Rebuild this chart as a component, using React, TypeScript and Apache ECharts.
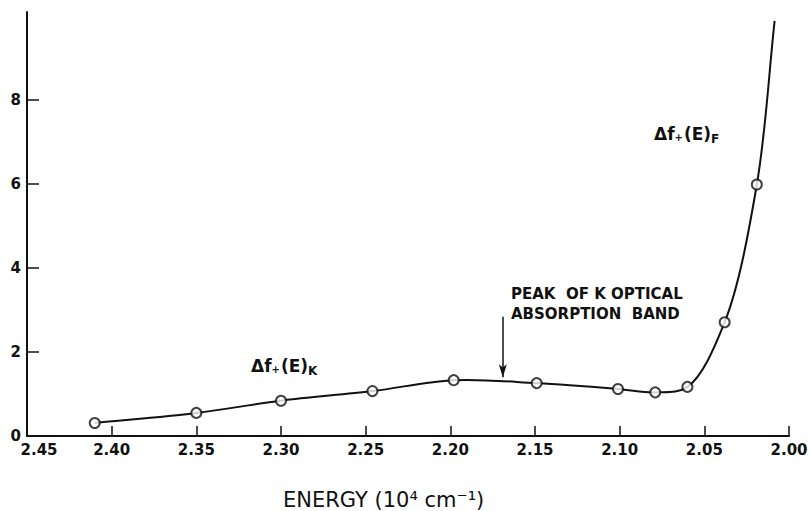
import React, { useEffect, useRef } from "react";
import * as echarts from "echarts";

// Measured points: energy (10^4 cm^-1) vs Δf
const energy = [2.41, 2.35, 2.3, 2.246, 2.198, 2.149, 2.101, 2.079, 2.06, 2.038, 2.019];
const deltaF = [0.31, 0.55, 0.84, 1.07, 1.33, 1.26, 1.12, 1.04, 1.17, 2.71, 5.99];
// Drawn curve continues past the last measured point
const curveEndEnergy = [2.0085];
const curveEndValue = [9.89];

const xTickValues = [2.4, 2.35, 2.3, 2.25, 2.2, 2.15, 2.1, 2.05, 2.0];
const xLabelValues = [2.45, 2.4, 2.35, 2.3, 2.25, 2.2, 2.15, 2.1, 2.05, 2.0];
const yTickValues = [2, 4, 6, 8];
const yLabelValues = [0, 2, 4, 6, 8];

const peakEnergy = 2.169;
const arrowStart = 2.84;
const arrowEnd = 1.4;

// centripetal Catmull-Rom through pixel points -> SVG path data
function catmullRomPath(pts: number[][]): string {
  if (pts.length < 2) return "";
  const n = pts.length;
  const ext = [
    [2 * pts[0][0] - pts[1][0], 2 * pts[0][1] - pts[1][1]],
    ...pts,
    [2 * pts[n - 1][0] - pts[n - 2][0], 2 * pts[n - 1][1] - pts[n - 2][1]],
  ];
  const a = 0.5;
  let d = `M${pts[0][0]},${pts[0][1]}`;
  for (let i = 1; i < ext.length - 2; i++) {
    const p0 = ext[i - 1], p1 = ext[i], p2 = ext[i + 1], p3 = ext[i + 2];
    const l01 = Math.pow(Math.hypot(p1[0] - p0[0], p1[1] - p0[1]), a) || 1e-6;
    const l12 = Math.pow(Math.hypot(p2[0] - p1[0], p2[1] - p1[1]), a) || 1e-6;
    const l23 = Math.pow(Math.hypot(p3[0] - p2[0], p3[1] - p2[1]), a) || 1e-6;
    const b1 = [0, 1].map(
      (k) =>
        (l01 * l01 * p2[k] - l12 * l12 * p0[k] + (2 * l01 * l01 + 3 * l01 * l12 + l12 * l12) * p1[k]) /
        (3 * l01 * (l01 + l12))
    );
    const b2 = [0, 1].map(
      (k) =>
        (l23 * l23 * p1[k] - l12 * l12 * p3[k] + (2 * l23 * l23 + 3 * l23 * l12 + l12 * l12) * p2[k]) /
        (3 * l23 * (l23 + l12))
    );
    d += ` C${b1[0]},${b1[1]} ${b2[0]},${b2[1]} ${p2[0]},${p2[1]}`;
  }
  return d;
}

export default function App() {
  const ref = useRef<HTMLDivElement>(null);
  useEffect(() => {
    document.body.style.margin = "0";
    if (!ref.current) return;
    const chart = echarts.init(ref.current, undefined, { renderer: "svg" });
    const ink = "#111";
    const curve = energy
      .map((e, i) => [e, deltaF[i]])
      .concat(curveEndEnergy.map((e, i) => [e, curveEndValue[i]]));
    const points = energy.map((e, i) => [e, deltaF[i]]);
    const richLabel = {
      m: { fontFamily: "DejaVu Sans", fontWeight: "bold", fontSize: 17, fill: ink, lineHeight: 20 },
      d: { fontFamily: "DejaVu Sans", fontWeight: "bold", fontSize: 10, fill: ink, lineHeight: 20, padding: [6, 1, 0, 0] },
      s: { fontFamily: "DejaVu Sans", fontWeight: "bold", fontSize: 12, fill: ink, lineHeight: 20, padding: [10, 0, 0, 0] },
    };
    chart.setOption({
      animation: false,
      backgroundColor: "#fff",
      grid: { left: 27, right: 20, top: 12, bottom: 75, containLabel: false, outerBoundsMode: "none" },
      xAxis: {
        type: "value",
        min: 2.0,
        max: 2.45,
        interval: 0.05,
        inverse: true,
        axisLine: { show: true, lineStyle: { color: ink, width: 2 } },
        axisTick: {
          show: true,
          inside: true,
          length: 10,
          customValues: xTickValues,
          lineStyle: { color: ink, width: 1.5 },
        },
        axisLabel: {
          customValues: xLabelValues,
          formatter: (v: number) =>
            Math.abs(v - 2.45) < 1e-6 ? "{p|" + v.toFixed(2) + "}" : v.toFixed(2),
          rich: {
            p: {
              padding: [0, 0, 0, 24],
              fontFamily: "DejaVu Sans",
              fontWeight: "bold",
              fontSize: 15,
              color: ink,
            },
          },
          margin: 6,
          color: ink,
          fontFamily: "DejaVu Sans",
          fontWeight: "bold",
          fontSize: 15,
        },
        splitLine: { show: false },
      },
      yAxis: {
        type: "value",
        min: 0,
        max: 10.1,
        axisLine: { show: true, lineStyle: { color: ink, width: 2 } },
        axisTick: {
          show: true,
          inside: true,
          length: 12,
          customValues: yTickValues,
          lineStyle: { color: ink, width: 1.5 },
        },
        axisLabel: {
          customValues: yLabelValues,
          margin: 6,
          color: ink,
          fontFamily: "DejaVu Sans",
          fontWeight: "bold",
          fontSize: 15,
        },
        splitLine: { show: false },
      },
      series: [
        {
          type: "custom",
          data: curve,
          encode: { x: 0, y: 1 },
          z: 2,
          silent: true,
          renderItem: (params: any, api: any) => {
            if (params.dataIndex !== 0) return null;
            const px = curve.map((p) => api.coord(p));
            return {
              type: "path",
              shape: { pathData: catmullRomPath(px) },
              style: { stroke: ink, fill: "none", lineWidth: 2 },
            };
          },
        },
        {
          type: "scatter",
          data: points,
          symbol: "circle",
          symbolSize: 10,
          itemStyle: { color: "#fff", borderColor: ink, borderWidth: 2 },
          z: 3,
          markLine: {
            silent: true,
            symbol: ["none", "arrow"],
            symbolSize: [6, 13],
            label: { show: false },
            lineStyle: { color: ink, width: 1.5, type: "solid" },
            data: [[{ coord: [peakEnergy, arrowStart] }, { coord: [peakEnergy, arrowEnd] }]],
          },
        },
      ],
      graphic: [
        {
          type: "text",
          left: 251,
          top: 355,
          style: { text: "{m|Δf}{d|+}{m|(E)}{s|K}", rich: richLabel },
        },
        {
          type: "text",
          left: 654,
          top: 123,
          style: { text: "{m|Δf}{d|+}{m|(E)}{s|F}", rich: richLabel },
        },
        {
          type: "text",
          left: 511,
          top: 284,
          style: {
            text: "PEAK  OF K OPTICAL\nABSORPTION  BAND",
            fontFamily: "DejaVu Sans",
            fontWeight: "bold",
            fontSize: 15,
            lineHeight: 20,
            fill: ink,
          },
        },
        {
          type: "text",
          left: 283,
          top: 489,
          style: {
            text: "ENERGY (10⁴ cm⁻¹)",
            fontFamily: "DejaVu Sans",
            fontSize: 21,
            fill: ink,
          },
        },
      ],
    });
    return () => chart.dispose();
  }, []);
  return <div ref={ref} style={{ width: 809, height: 511 }} />;
}
